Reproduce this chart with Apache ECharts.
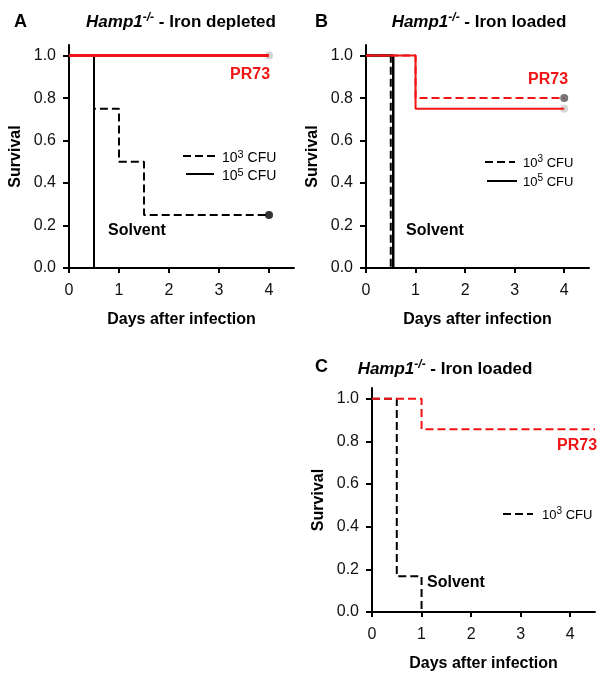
<!DOCTYPE html>
<html>
<head>
<meta charset="utf-8">
<script src="https://cdn.jsdelivr.net/npm/echarts@6/dist/echarts.min.js"></script>
<style>html,body{margin:0;padding:0;background:#fff}#c{width:607px;height:680px}</style>
</head>
<body>
<div id="c"></div>
<script>
// ---- data ----
const yTicks = [0, 0.2, 0.4, 0.6, 0.8, 1.0];
const xTicks = [0, 1, 2, 3, 4];

// Panel A: Hamp1-/- iron depleted
const A_pr73Solid_t = [0, 4];            const A_pr73Solid_s = [1, 1];
const A_pr73Dash_t  = [0, 4];            const A_pr73Dash_s  = [1, 1];
const A_cfu3_t = [0, 0.5, 1, 1.5, 4];    const A_cfu3_s = [1, 0.75, 0.5, 0.25, 0.25];
const A_cfu5_t = [0, 0.5];               const A_cfu5_s = [1, 0];
// Panel B: Hamp1-/- iron loaded
const B_pr73Solid_t = [0, 1, 4];         const B_pr73Solid_s = [1, 0.75, 0.75];
const B_pr73Dash_t  = [0, 1, 4];         const B_pr73Dash_s  = [1, 0.8, 0.8];
const B_cfu3_t = [0, 0.5];               const B_cfu3_s = [1, 0];
const B_cfu5_t = [0, 0.55];              const B_cfu5_s = [1, 0];
// Panel C: Hamp1-/- iron loaded
const C_pr73Dash_t = [0, 1, 4.5];        const C_pr73Dash_s = [1, 0.857, 0.857];
const C_cfu3_t = [0, 0.5, 1];            const C_cfu3_s = [1, 0.167, 0];

// censored end markers
const endDots = [
  {panel: 0, t: 4, s: 1.0,  color: '#c8c8c8'},
  {panel: 0, t: 4, s: 0.25, color: '#000000'},
  {panel: 1, t: 4, s: 0.8,  color: '#555555'},
  {panel: 1, t: 4, s: 0.75, color: '#cfcfcf'}
];

// ---- helpers ----
const RED = '#f01414';
const FONT = '"Liberation Sans", Arial, sans-serif';
const zip = (t, s) => t.map((v, i) => [v, s[i]]);

function stepSeries(panel, t, s, color, dashed, width) {
  return {
    type: 'line', xAxisIndex: panel, yAxisIndex: panel,
    data: zip(t, s), step: 'end', symbol: 'none', silent: true,
    lineStyle: {color: color, width: width || 2, type: dashed ? [8, 4] : 'solid'},
    animation: false
  };
}

const grids = [
  {left: 69, top: 45, width: 225, height: 223},
  {left: 366, top: 45, width: 223, height: 223},
  {left: 372, top: 388, width: 223, height: 224}
];

function xAxis(i) {
  return {
    type: 'value', gridIndex: i, min: 0, max: 4.5,
    name: 'Days after infection', nameLocation: 'middle', nameGap: 44,
    nameTextStyle: {fontFamily: FONT, fontSize: 16, fontWeight: 'bold', color: '#000'},
    axisLine: {show: true, onZero: false, lineStyle: {color: '#000', width: 2}},
    axisTick: {show: true, inside: false, length: 5, lineStyle: {color: '#000', width: 2}, customValues: xTicks},
    axisLabel: {fontFamily: FONT, fontSize: 16, color: '#111', margin: 15, customValues: xTicks},
    splitLine: {show: false}
  };
}
function yAxis(i) {
  return {
    type: 'value', gridIndex: i, min: 0, max: 1.05,
    name: 'Survival', nameLocation: 'middle', nameGap: 45, nameRotate: 90,
    nameTextStyle: {fontFamily: FONT, fontSize: 16, fontWeight: 'bold', color: '#000'},
    axisLine: {show: true, onZero: false, lineStyle: {color: '#000', width: 2}},
    axisTick: {show: true, inside: false, length: 6, lineStyle: {color: '#000', width: 2}, customValues: yTicks},
    axisLabel: {fontFamily: FONT, fontSize: 16, color: '#111', margin: 13, customValues: yTicks,
                formatter: v => v.toFixed(1)},
    splitLine: {show: false}
  };
}

const series = [
  stepSeries(0, A_cfu5_t, A_cfu5_s, '#000', false),
  stepSeries(0, A_cfu3_t, A_cfu3_s, '#000', true),
  stepSeries(0, A_pr73Solid_t, A_pr73Solid_s, RED, false, 3),
  stepSeries(0, A_pr73Dash_t, A_pr73Dash_s, RED, true),
  stepSeries(1, B_cfu5_t, B_cfu5_s, '#000', false, 2.5),
  stepSeries(1, B_cfu3_t, B_cfu3_s, '#000', true),
  stepSeries(1, B_pr73Solid_t, B_pr73Solid_s, RED, false),
  stepSeries(1, B_pr73Dash_t, B_pr73Dash_s, RED, true),
  stepSeries(2, C_cfu3_t, C_cfu3_s, '#000', true),
  stepSeries(2, C_pr73Dash_t, C_pr73Dash_s, RED, true)
];
endDots.forEach(d => series.push({
  type: 'scatter', xAxisIndex: d.panel, yAxisIndex: d.panel, data: [[d.t, d.s]],
  symbol: 'circle', symbolSize: 8, itemStyle: {color: d.color}, silent: true, animation: false, clip: false
}));

function txt(x, y, text, size, opts) {
  opts = opts || {};
  return {type: 'text', x: x, y: y, silent: true, style: Object.assign({
    text: text, fontFamily: FONT, fontSize: size, fontWeight: opts.weight || 'bold',
    fill: opts.fill || '#000', align: opts.align || 'left', verticalAlign: 'middle'
  }, opts.style || {})};
}
function title(x, y, rest) {
  return {type: 'text', x: x, y: y, silent: true, style: {
    text: '{i|Hamp1}{s|-/-}{n| - ' + rest + '}',
    align: 'center', verticalAlign: 'middle', fontFamily: FONT,
    rich: {
      i: {fontFamily: FONT, fontSize: 17, fontStyle: 'italic', fontWeight: 'bold', fill: '#000', lineHeight: 21},
      s: {fontFamily: FONT, fontSize: 12, fontStyle: 'italic', fontWeight: 'bold', fill: '#000', verticalAlign: 'top', lineHeight: 21},
      n: {fontFamily: FONT, fontSize: 17, fontWeight: 'bold', fill: '#000', lineHeight: 21}
    }
  }};
}
function legText(x, y, size, exp) {
  return {type: 'text', x: x, y: y, silent: true, style: {
    text: '{n|10}{s|' + exp + '}{n| CFU}', align: 'left', verticalAlign: 'middle', fontFamily: FONT,
    rich: {
      n: {fontFamily: FONT, fontSize: size, fill: '#000', lineHeight: 18},
      s: {fontFamily: FONT, fontSize: size - 3, fill: '#000', verticalAlign: 'top', lineHeight: 18}
    }
  }};
}
function legLine(x1, x2, y, dashed) {
  return {type: 'line', silent: true, shape: {x1: x1, y1: y, x2: x2, y2: y},
    style: {stroke: '#000', lineWidth: 2, lineDash: dashed ? [8, 4] : null}};
}

const graphic = [
  txt(14, 22, 'A', 18), txt(315, 22, 'B', 18), txt(315, 367, 'C', 18),
  title(181, 22, 'Iron depleted'), title(479, 22, 'Iron loaded'), title(445, 369, 'Iron loaded'),
  txt(230, 75, 'PR73', 16, {fill: RED}), txt(528, 80, 'PR73', 16, {fill: RED}), txt(557, 446, 'PR73', 16, {fill: RED}),
  txt(108, 231, 'Solvent', 16), txt(406, 231, 'Solvent', 16), txt(427, 583, 'Solvent', 16),
  legLine(183, 215, 156, true), legLine(186, 214, 174, false),
  legText(222, 158, 14, '3'), legText(222, 176, 14, '5'),
  legLine(485, 515, 162, true), legLine(487, 517, 181, false),
  legText(523, 163, 13, '3'), legText(523, 182, 13, '5'),
  legLine(503, 533, 514, true),
  legText(542, 515, 13, '3')
];

const chart = echarts.init(document.getElementById('c'), null, {renderer: 'canvas'});
chart.setOption({
  backgroundColor: '#fff',
  animation: false,
  grid: grids,
  xAxis: [xAxis(0), xAxis(1), xAxis(2)],
  yAxis: [yAxis(0), yAxis(1), yAxis(2)],
  series: series,
  graphic: graphic
});
</script>
</body>
</html>
